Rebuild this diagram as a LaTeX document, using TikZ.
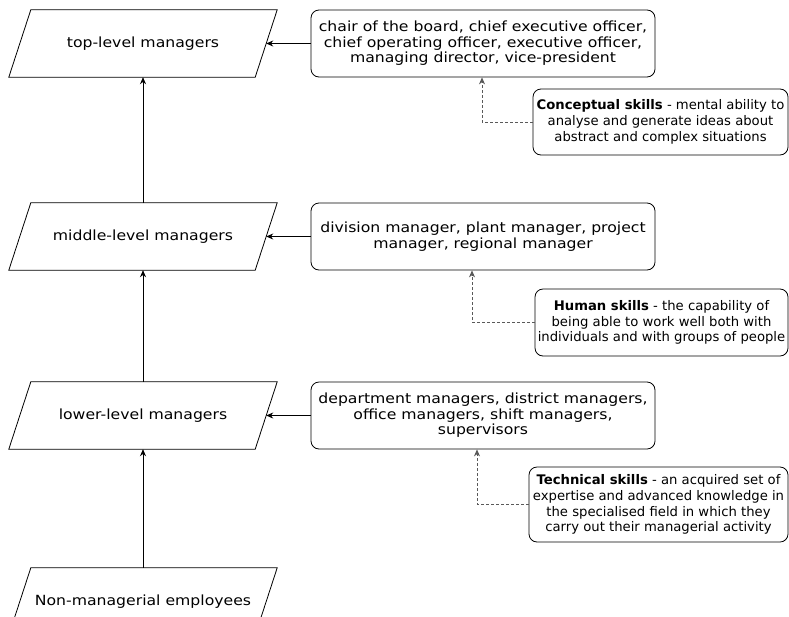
\documentclass[tikz,border=0pt]{standalone}
\usepackage{fontspec}
\usetikzlibrary{arrows.meta}
\newfontfamily\mainf[FakeStretch=1.12]{DejaVu Sans}
\newfontfamily\skillf{DejaVu Sans}
\newcommand\drawpara[1]{\draw[line width=0.8pt] ([xshift=-11pt]#1.south west) -- ([xshift=-11pt]#1.south east) -- ([xshift=11pt]#1.north east) -- ([xshift=11pt]#1.north west) -- cycle;}
\begin{document}
\begin{tikzpicture}[x=1pt,y=-1pt,
  lvl/.style={minimum width=246pt, minimum height=67pt, inner sep=0pt, font=\mainf\fontsize{14}{15.5}\selectfont},
  rbox/.style={draw, line width=0.8pt, rounded corners=8pt, minimum width=344pt, minimum height=67pt, align=center, inner sep=0pt, font=\mainf\fontsize{14}{15.5}\selectfont},
  skill/.style={draw, line width=0.8pt, rounded corners=8pt, align=center, inner sep=0pt, font=\skillf\fontsize{13.2}{15.7}\selectfont},
  arr/.style={-{Stealth[length=7pt,width=6pt]}, line width=0.8pt},
  skillarr/.style={-{Stealth[length=7pt,width=6pt]}, line width=0.7pt, draw=black!65, dash pattern=on 3pt off 2pt}]
\useasboundingbox (0,0) rectangle (789,616);
\clip (0,0) rectangle (789,616);
\fill[white] (0,0) rectangle (789,616);
% level nodes
\node[lvl] (top) at (143,43.5) {top-level managers};
\node[lvl] (mid) at (143,236.5) {middle-level managers};
\node[lvl] (low) at (143,415.5) {lower-level managers};
\node[lvl] (non) at (143,601.5) {Non-managerial employees};
\drawpara{top}
\drawpara{mid}
\drawpara{low}
\drawpara{non}
% rounded boxes
\node[rbox] (topr) at (483,43.5) {chair of the board, chief executive officer,\\chief operating officer, executive officer,\\managing director, vice-president};
\node[rbox] (midr) at (483,236.5) {division manager, plant manager, project\\manager, regional manager};
\node[rbox] (lowr) at (483,415.5) {department managers, district managers,\\office managers, shift managers,\\supervisors};
% skill boxes
\node[skill, minimum width=255pt, minimum height=66pt] (cs) at (660.5,122) {\textbf{Conceptual skills} - mental ability to\\analyse and generate ideas about\\abstract and complex situations};
\node[skill, minimum width=253pt, minimum height=67pt] (hs) at (661.5,322.5) {\textbf{Human skills} - the capability of\\being able to work well both with\\individuals and with groups of people};
\node[skill, minimum width=259pt, minimum height=75pt] (ts) at (658.5,504.5) {\textbf{Technical skills} - an acquired set of\\expertise and advanced knowledge in\\the specialised field in which they\\carry out their managerial activity};
% connectors
\draw[arr] (topr.west) -- (top.east);
\draw[arr] (midr.west) -- (mid.east);
\draw[arr] (lowr.west) -- (low.east);
\draw[arr] (mid.north) -- (top.south);
\draw[arr] (low.north) -- (mid.south);
\draw[arr] (non.north) -- (low.south);
\draw[skillarr] (cs.west) -| ([xshift=-1pt]topr.south);
\draw[skillarr] (hs.west) -| ([xshift=-11pt]midr.south);
\draw[skillarr] (ts.west) -| ([xshift=-6pt]lowr.south);
\end{tikzpicture}
\end{document}
